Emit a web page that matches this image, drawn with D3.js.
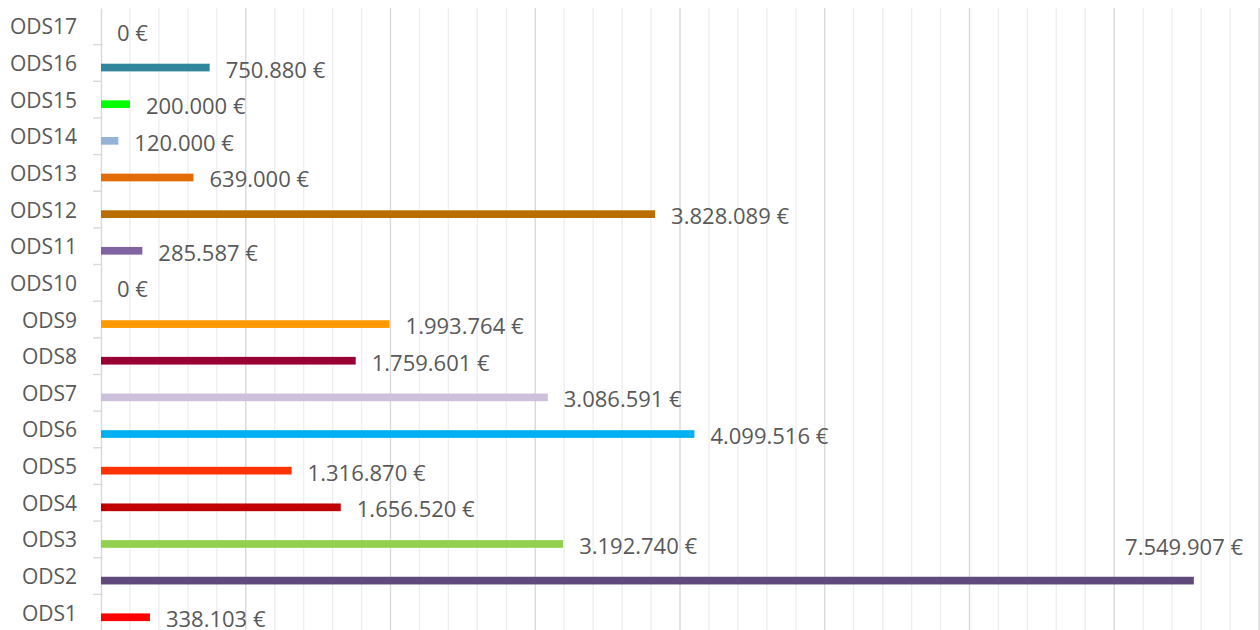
<!DOCTYPE html>
<html>
<head>
<meta charset="utf-8">
<script src="https://cdn.jsdelivr.net/npm/d3@7"></script>
<style>
  body { margin: 0; background: #fff; }
  text { font-family: "Open Sans", "Liberation Sans", Arial, sans-serif; fill: #595959; }
</style>
</head>
<body>
<div id="container"></div>
<script>
// categories from bottom to top as in the chart
let categories = ["ODS1","ODS2","ODS3","ODS4","ODS5","ODS6","ODS7","ODS8","ODS9",
                  "ODS10","ODS11","ODS12","ODS13","ODS14","ODS15","ODS16","ODS17"];
let amounts = [338103, 7549907, 3192740, 1656520, 1316870, 4099516, 3086591, 1759601, 1993764,
               0, 285587, 3828089, 639000, 120000, 200000, 750880, 0];
let palette = ["#ff0000","#604a7b","#92d050","#c00000","#ff3300","#00b0f0","#ccc0da","#990033","#ff9900",
               "#7f7f7f","#8064a2","#ba6d00","#e36c09","#95b3d7","#00ff00","#31859c","#7f7f7f"];
let xMax = 8000000;

let w = 1260;
let h = 630;
let padLeft = 101;
let padRight = 1259;
let padTop = 8;
let padBottom = 631;

let viz = d3.select("#container")
  .append("svg")
    .attr("width", w)
    .attr("height", h)
;

let data = categories.map(function(c, i){
  return {cat: c, value: amounts[i]};
});

let xScale = d3.scaleLinear().domain([0, xMax]).range([padLeft, padRight]);
let yScale = d3.scaleBand().domain(categories.slice().reverse()).range([padTop, padBottom]);
let colorScale = d3.scaleOrdinal().domain(categories).range(palette);
let bw = yScale.bandwidth();

let euro = d3.formatLocale({decimal: ",", thousands: ".", grouping: [3], currency: ["", " €"]}).format("$,.0f");

// minor gridlines every 200.000
let minorTicks = d3.range(0, xMax + 1, 200000).filter(function(v){ return v % 1000000 != 0; });
viz.append("g").selectAll("line").data(minorTicks).enter().append("line")
    .attr("x1", function(d){ return xScale(d); })
    .attr("x2", function(d){ return xScale(d); })
    .attr("y1", padTop)
    .attr("y2", padBottom)
    .attr("stroke", "#efefef")
    .attr("stroke-width", 1.4)
;

// major gridlines every 1.000.000
let majorTicks = d3.range(1000000, xMax + 1, 1000000);
viz.append("g").selectAll("line").data(majorTicks).enter().append("line")
    .attr("x1", function(d){ return xScale(d); })
    .attr("x2", function(d){ return xScale(d); })
    .attr("y1", padTop)
    .attr("y2", padBottom)
    .attr("stroke", "#d9d9d9")
    .attr("stroke-width", 1.4)
;

// category axis
let yAxis = d3.axisLeft(yScale).tickSize(0).tickPadding(24);
let yAxisGroup = viz.append("g")
    .attr("class", "yaxisgroup")
    .attr("transform", "translate(" + padLeft + ",0)")
;
yAxisGroup.call(yAxis);
yAxisGroup.select(".domain").attr("stroke", "#d9d9d9").attr("stroke-width", 1.4);
yAxisGroup.selectAll("text")
    .attr("font-size", 21)
    .attr("dy", null)
    .attr("y", 0)
    .attr("dominant-baseline", "central")
    .style("fill", "#595959")
;
// tick marks between categories
let boundaries = d3.range(1, categories.length).map(function(i){ return padTop + i * bw; });
yAxisGroup.selectAll(".sep").data(boundaries).enter().append("line")
    .attr("class", "sep")
    .attr("x1", -8).attr("x2", 0)
    .attr("y1", function(d){ return d; })
    .attr("y2", function(d){ return d; })
    .attr("stroke", "#d9d9d9")
    .attr("stroke-width", 1.4)
;

// bars
function barTop(d){ return yScale(d.cat) + bw * 0.52; }
function barMid(d){ return barTop(d) + bw * 0.105; }

viz.append("g").selectAll("rect").data(data).enter().append("rect")
    .attr("x", xScale(0))
    .attr("y", barTop)
    .attr("width", function(d){ return xScale(d.value) - xScale(0); })
    .attr("height", bw * 0.21)
    .attr("fill", function(d){ return colorScale(d.cat); })
;

// value labels
let labels = viz.append("g").selectAll("text").data(data).enter().append("text")
    .attr("font-size", 22)
    .attr("dominant-baseline", "central")
    .text(function(d){ return euro(d.value); })
;
labels.each(function(d){
  let t = d3.select(this);
  let len = this.getComputedTextLength();
  let x = xScale(d.value) + 16;
  if (x + len > padRight - 10) {
    t.attr("x", padRight - 16).attr("y", barMid(d) - bw * 0.94).attr("text-anchor", "end");
  } else {
    t.attr("x", x).attr("y", barMid(d) + 1);
  }
});
</script>
</body>
</html>
